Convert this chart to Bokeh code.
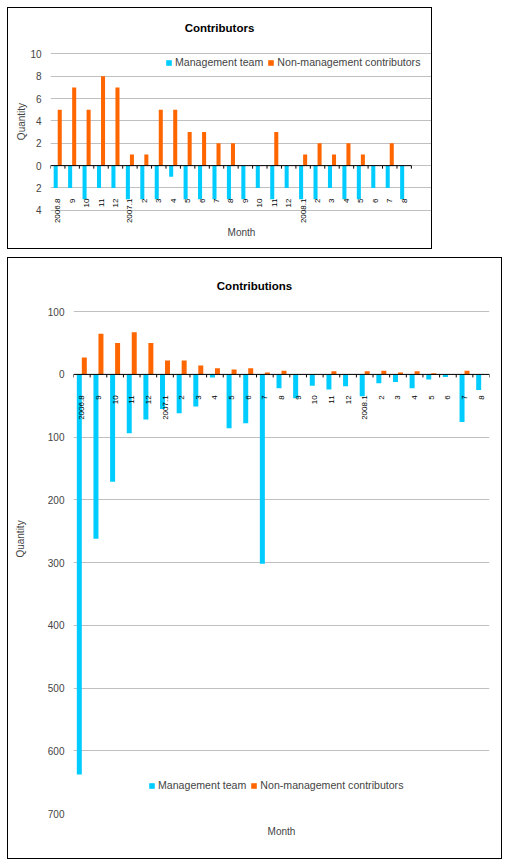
import numpy as np
from math import pi
from bokeh.plotting import figure
from bokeh.models import (Range1d, Legend, LegendItem, FixedTicker,
                          ColumnDataSource, Label)
from bokeh.core.properties import value
from bokeh.transform import dodge
from bokeh.embed import file_html
from bokeh.resources import INLINE

# ---------------- data ----------------
months = ["2006.8", "9", "10", "11", "12", "2007.1", "2", "3", "4", "5", "6",
          "7", "8", "9", "10", "11", "12", "2008.1", "2", "3", "4", "5", "6",
          "7", "8"]

contributors_mgmt = [2, 2, 3, 2, 2, 3, 3, 3, 1, 3, 3, 3, 3, 3, 2, 3, 2, 3, 3,
                     2, 3, 3, 2, 2, 3]
contributors_non = [5, 7, 5, 8, 7, 1, 1, 5, 5, 3, 3, 2, 2, 0, 0, 3, 0, 1, 2,
                    1, 2, 1, 0, 2, 0]

contributions_mgmt = [638, 262, 171, 94, 72, 55, 62, 51, 5, 86, 78, 302, 22,
                      38, 18, 24, 19, 35, 14, 12, 22, 8, 4, 76, 25]
contributions_non = [27, 65, 50, 67, 50, 22, 22, 14, 10, 8, 10, 3, 6, 0, 0, 5,
                     0, 5, 6, 3, 5, 2, 0, 6, 0]

series_names = ["Management team", "Non-management contributors"]
top_ticks = [-4, -2, 0, 2, 4, 6, 8, 10]
bottom_ticks = [-700, -600, -500, -400, -300, -200, -100, 0, 100]

BLUE = "#00CCFF"
ORANGE = "#FF6600"
GRID = "#C0C0C0"
FONT = "Liberation Sans"


def make_chart(title, mgmt, non, ticks, canvas, frame, grid_px, cat_right,
               title_pos, bar_w, label_off_px, month_standoff, ylab_standoff,
               legend_loc):
    """canvas=(x, y, w, h); frame=(left, right, top, bottom) in page px."""
    n = len(months)
    cx, cy, W, H = canvas
    fl, fr, ft, fb = frame
    g_top, g_bot = grid_px
    ml, mr, mt, mb = fl - cx, cx + W - fr, ft - cy, cy + H - fb
    upp = (ticks[-1] - ticks[0]) / (g_bot - g_top)
    ymax = ticks[-1] + (g_top - ft) * upp
    ymin = ticks[0] - (fb - g_bot) * upp
    ppc = (cat_right - fl) / n
    xmax = -0.5 + (fr - fl) / ppc

    p = figure(width=W, height=H, output_backend="svg", toolbar_location=None,
               title=None,
               x_range=Range1d(-0.5, xmax), y_range=Range1d(ymin, ymax),
               min_border_left=ml, min_border_right=mr,
               min_border_top=mt, min_border_bottom=mb)
    p.styles = {"border": "1px solid black", "box-sizing": "content-box"}
    p.outline_line_color = None

    src = ColumnDataSource(dict(
        x=list(range(n)),
        mgmt=[-v for v in mgmt],
        non=non,
        label=months,
    ))

    # grid
    p.xgrid.visible = False
    p.ygrid.ticker = FixedTicker(ticks=ticks)
    p.ygrid.grid_line_color = GRID
    p.ygrid.grid_line_width = 1
    p.ygrid.bounds = (-0.5, n - 0.5)

    # y axis with absolute-valued labels
    ya = p.left[0]
    ya.ticker = FixedTicker(ticks=ticks)
    ya.major_label_overrides = {t: str(abs(t)) for t in ticks}
    ya.axis_line_color = None
    ya.major_tick_line_color = None
    ya.minor_tick_line_color = None
    ya.major_tick_out = 0
    ya.major_tick_in = 0
    ya.minor_tick_out = 0
    ya.minor_tick_in = 0
    ya.major_label_text_font = FONT
    ya.major_label_text_font_size = "10px"
    ya.major_label_standoff = 9
    ya.axis_label = "Quantity"
    ya.axis_label_text_font = FONT
    ya.axis_label_text_font_size = "10px"
    ya.axis_label_text_font_style = "normal"
    ya.axis_label_standoff = ylab_standoff

    # bottom axis only carries the "Month" title
    xa = p.below[0]
    xa.ticker = FixedTicker(ticks=[])
    xa.axis_line_color = None
    xa.major_tick_line_color = None
    xa.minor_tick_line_color = None
    xa.major_tick_out = 0
    xa.major_tick_in = 0
    xa.minor_tick_out = 0
    xa.minor_tick_in = 0
    xa.major_label_standoff = 0
    xa.axis_label = "Month"
    xa.axis_label_text_font = FONT
    xa.axis_label_text_font_size = "10px"
    xa.axis_label_text_font_style = "normal"
    xa.axis_label_standoff = month_standoff

    r1 = p.vbar(x=dodge("x", -bar_w / 2, range=p.x_range), top=0,
                bottom="mgmt", width=bar_w, source=src,
                fill_color=BLUE, line_color=None)
    r2 = p.vbar(x=dodge("x", bar_w / 2, range=p.x_range), top="non",
                bottom=0, width=bar_w, source=src,
                fill_color=ORANGE, line_color=None)

    # category axis line drawn at zero, with ticks between categories
    p.segment(x0=[-0.5], x1=[n - 0.5], y0=[0], y1=[0], line_color="black",
              line_width=1)
    bounds = [i - 0.5 for i in range(n + 1)]
    p.segment(x0=bounds, x1=bounds, y0=[0] * len(bounds),
              y1=[-3 * upp] * len(bounds), line_color="black", line_width=1)
    p.text(x="x", y=0, text="label", source=src, angle=pi / 2,
           text_align="right", text_baseline="middle", y_offset=label_off_px,
           text_font=value(FONT), text_font_size="8px", text_color="black")

    legend = Legend(items=[LegendItem(label=series_names[0], renderers=[r1]),
                           LegendItem(label=series_names[1], renderers=[r2])],
                    location=legend_loc, orientation="horizontal",
                    glyph_width=7, glyph_height=7, label_height=10,
                    label_standoff=3, spacing=4, padding=6, margin=0,
                    border_line_color=None, background_fill_color="white",
                    background_fill_alpha=1.0,
                    label_text_font=FONT, label_text_font_size="10.6px")
    p.add_layout(legend)

    tx, ty = title_pos
    p.add_layout(Label(x=tx - fl, y=fb - ty, x_units="screen",
                       y_units="screen", text=title, text_align="center",
                       text_baseline="middle", text_font=FONT,
                       text_font_style="bold", text_font_size="11.5px",
                       text_color="black"))
    return p


p1 = make_chart("Contributors", contributors_mgmt, contributors_non,
                top_ticks, canvas=(8, 8, 423, 240), frame=(50, 430, 14, 226),
                grid_px=(53, 208), cat_right=409, title_pos=(219, 25),
                bar_w=0.28, label_off_px=33, month_standoff=-2,
                ylab_standoff=0, legend_loc=(115, 160))
p2 = make_chart("Contributions", contributions_mgmt, contributions_non,
                bottom_ticks, canvas=(8, 258, 493, 600),
                frame=(73, 487, 264, 811), grid_px=(311, 811), cat_right=487,
                title_pos=(254, 283), bar_w=0.30, label_off_px=21,
                month_standoff=12, ylab_standoff=19, legend_loc=(75, 22))
p1.margin = (7, 0, 0, 7)
p2.margin = (8, 0, 0, 7)

open("out.html", "w").write(file_html([p1, p2], INLINE))
